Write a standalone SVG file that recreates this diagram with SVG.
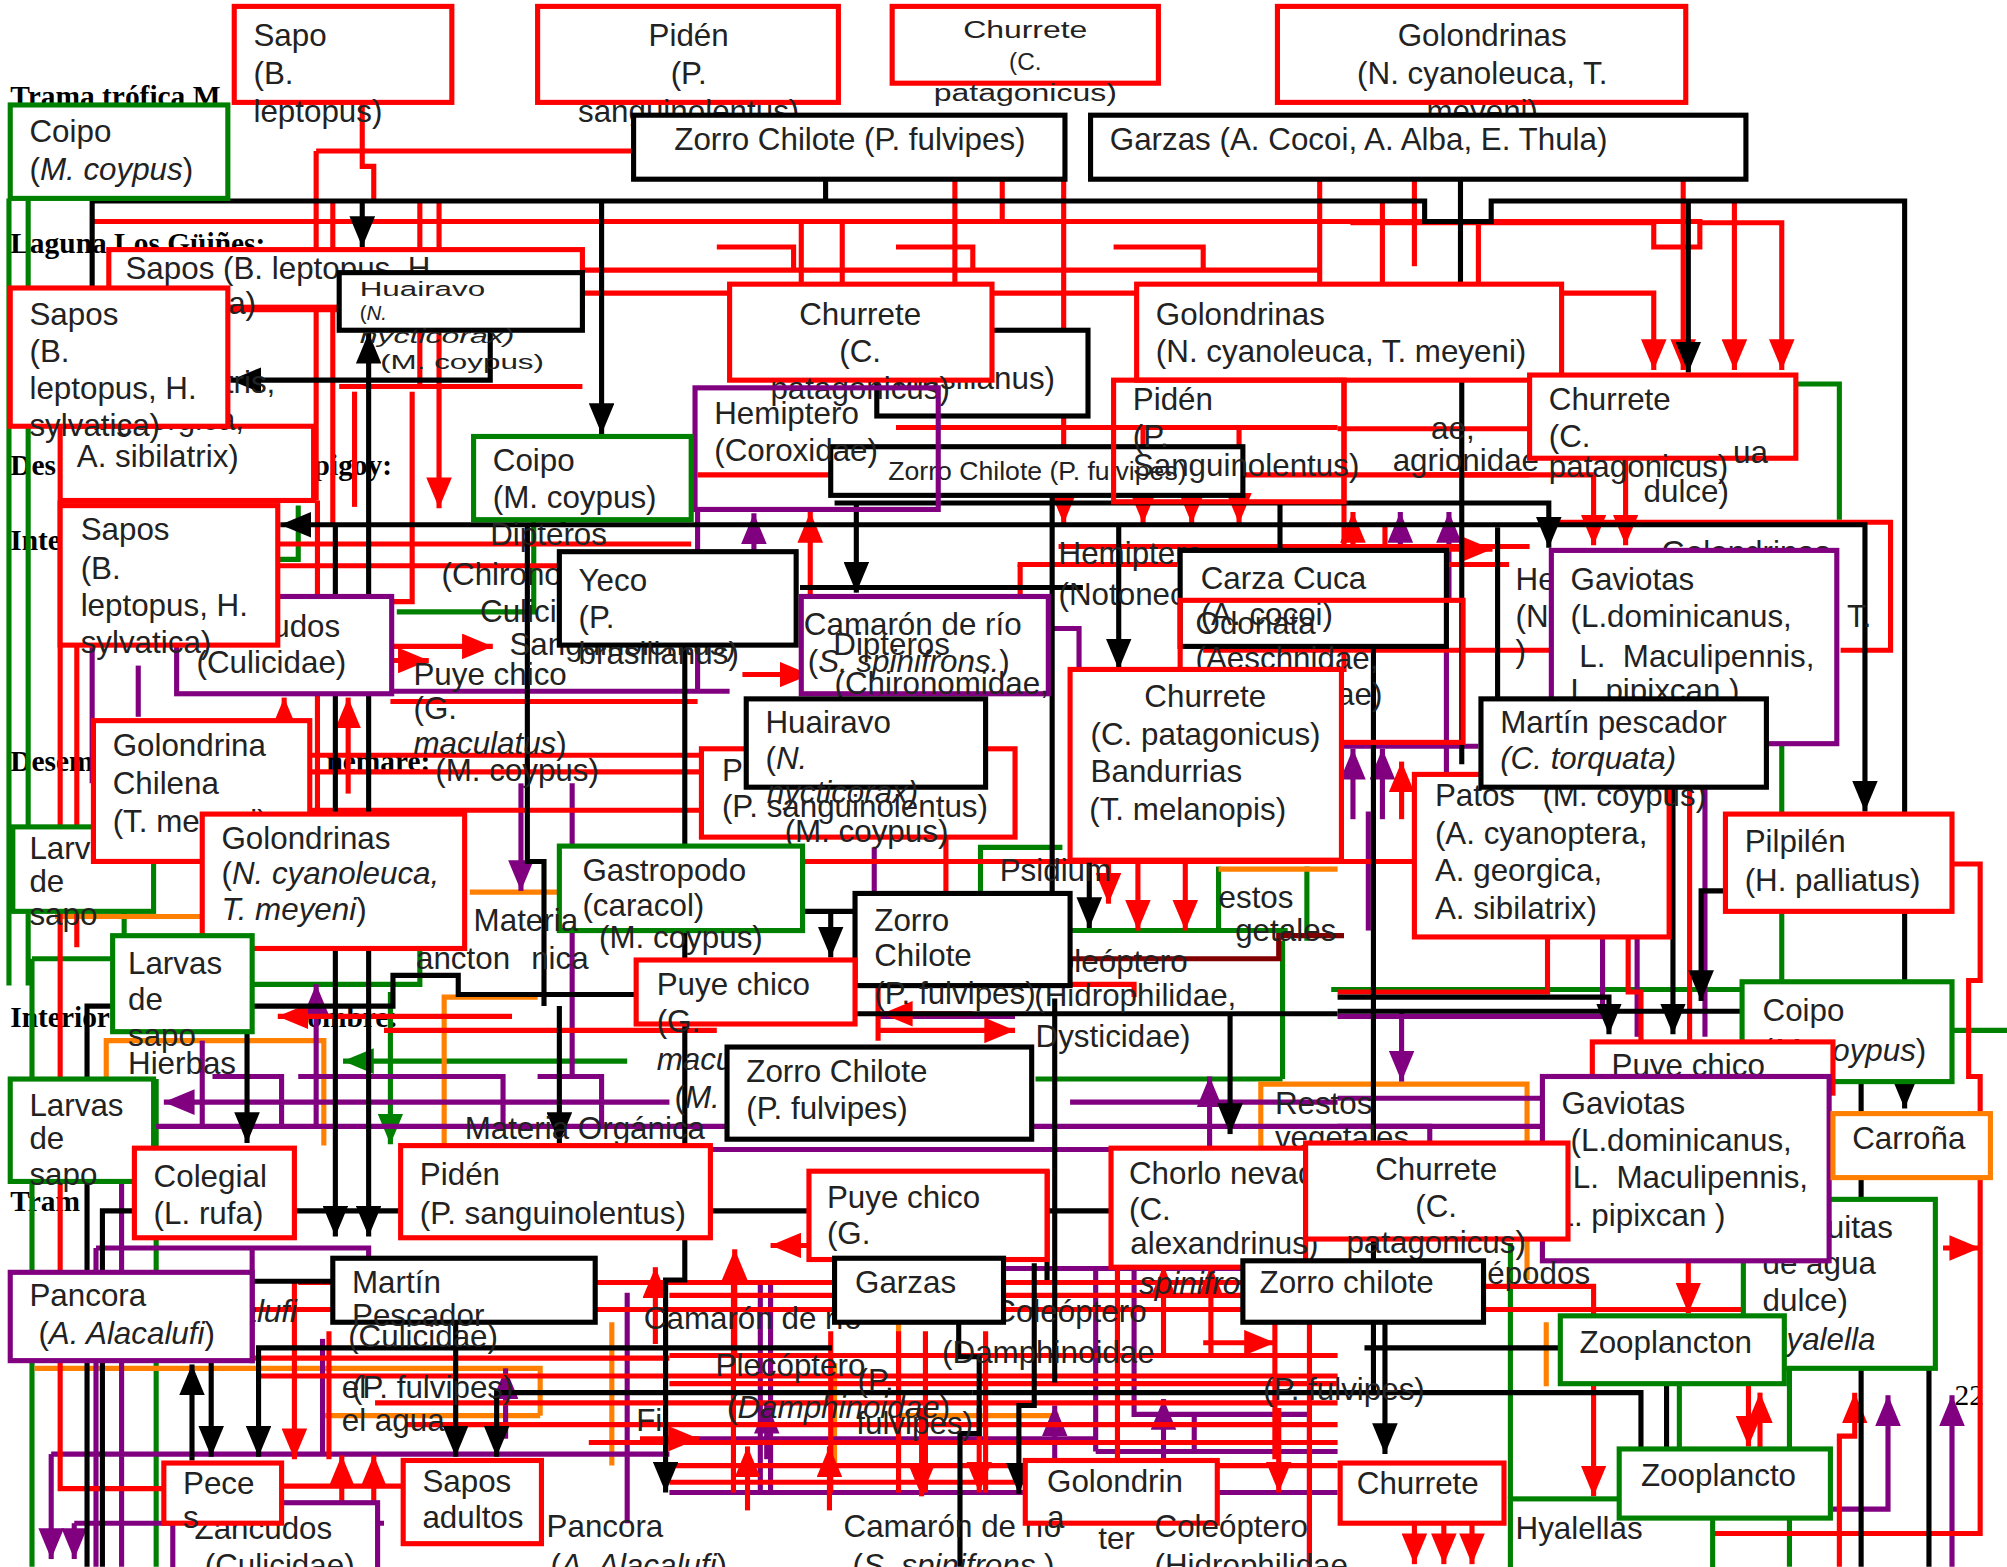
<svg xmlns="http://www.w3.org/2000/svg" width="2007" height="1567" viewBox="0 0 2007 1567">
<style>
.c path{fill:none;stroke-width:4}
.k{stroke:#000}.r{stroke:#ff0000}.p{stroke:#800080}.g{stroke:#008000}.o{stroke:#ff7f00}.dm{stroke:#800000}
.n rect{fill:#fff;stroke-width:4}
.n rect.nf{fill:none}
.R{stroke:#ff0000}.K{stroke:#000}.P{stroke:#800080}.G{stroke:#008000}.O{stroke:#ff7f00}
.t{font-family:"Liberation Sans",Arial,Helvetica,sans-serif;font-size:24.5px;fill:#222}
.mid{text-anchor:middle}
.sm{font-size:19px}
.xs{font-size:16px}
.it{font-style:italic}
.bg{font-family:"Liberation Serif","Times New Roman",serif;font-size:23px;font-weight:bold;fill:#000}
</style>
<defs>
<marker id="ak" viewBox="0 0 24 20" refX="24" refY="10" markerWidth="24" markerHeight="20" markerUnits="userSpaceOnUse" orient="auto"><path d="M0,0L24,10L0,20z" fill="#000"/></marker>
<marker id="ar" viewBox="0 0 24 20" refX="24" refY="10" markerWidth="24" markerHeight="20" markerUnits="userSpaceOnUse" orient="auto"><path d="M0,0L24,10L0,20z" fill="#ff0000"/></marker>
<marker id="ap" viewBox="0 0 24 20" refX="24" refY="10" markerWidth="24" markerHeight="20" markerUnits="userSpaceOnUse" orient="auto"><path d="M0,0L24,10L0,20z" fill="#800080"/></marker>
<marker id="ag" viewBox="0 0 24 20" refX="24" refY="10" markerWidth="24" markerHeight="20" markerUnits="userSpaceOnUse" orient="auto"><path d="M0,0L24,10L0,20z" fill="#008000"/></marker>
</defs>
<rect width="2007" height="1567" fill="#fff"/>
<g transform="scale(1.28)">
<g id="page-text">
<text class="bg" x="8" y="83">Trama trófica M</text>
<text class="bg" x="8" y="198">Laguna Los Güiñes:</text>
<text class="bg" x="8" y="371">Des</text>
<text class="bg" x="245" y="371">pigoy:</text>
<text class="bg" x="8" y="430">Inte</text>
<text class="bg" x="8" y="602">Desem</text>
<text class="bg" x="255" y="602">nemare:</text>
<text class="bg" x="8" y="802">Interior</text>
<text class="bg" x="240" y="802">ombre:</text>
<text class="bg" x="8" y="946">Tram</text>
<text class="bg" x="1527" y="1098" style="font-weight:normal">22</text>
</g>
<g id="connectors" class="c">
<path class="g" d="M7,155V770"/><path class="g" d="M22,155V770"/>
<path class="g" d="M1403,300H1437V406"/><path class="g" d="M1040,773H1362"/><path class="g" d="M1392,712V768"/>
<path class="g" d="M1525,805H1568"/><path class="g" d="M490,829H268" marker-end="url(#ag)"/>
<path class="g" d="M305,775V894" marker-end="url(#ag)"/><path class="g" d="M310,478H417V408"/>
<path class="g" d="M217,437H233V395"/><path class="g" d="M25,749H88"/><path class="g" d="M25,749V1224"/>
<path class="g" d="M198,769H328V724"/><path class="g" d="M97,712V731"/><path class="g" d="M122,843V1224"/>
<path class="g" d="M1180,971V1171"/><path class="g" d="M1312,1081V1133"/><path class="g" d="M1398,1069V1133"/>
<path class="g" d="M1398,1187V1224"/><path class="g" d="M766,727V662H830"/><path class="g" d="M837,727H1006"/>
<path class="g" d="M952,677V727"/><path class="g" d="M1002,735V843"/><path class="g" d="M809,843H1002"/>
<path class="g" d="M1021,677V735"/><path class="g" d="M1392,582V636"/>
<path class="o" d="M43,716H157"/><path class="o" d="M367,697H436"/><path class="o" d="M83,845V813H253V895"/>
<path class="o" d="M347,895V779H420"/><path class="o" d="M27,1069H422V1106"/><path class="o" d="M253,1106H422"/>
<path class="o" d="M478,1033V1145"/><path class="o" d="M985,1000V847H1193V1000"/><path class="o" d="M652,1065V1143"/>
<path class="o" d="M702,1030V1106H827"/><path class="o" d="M1208,1033V1083"/><path class="o" d="M952,679H1045"/>
<path class="dm" d="M836,749H999V731H1050"/>
<path class="p" d="M545,398V540"/><path class="p" d="M523,861H128" marker-end="url(#ap)"/><path class="p" d="M12,880H1210"/>
<path class="p" d="M407,612V696" marker-end="url(#ap)"/><path class="p" d="M1095,790V845" marker-end="url(#ap)"/>
<path class="p" d="M945,905V841" marker-end="url(#ap)"/><path class="p" d="M1432,1179H1475V1090" marker-end="url(#ap)"/>
<path class="p" d="M1525,1224V1090" marker-end="url(#ap)"/><path class="p" d="M40,1136H523"/>
<path class="p" d="M40,1136V1218" marker-end="url(#ap)"/><path class="p" d="M58,1190H300"/>
<path class="p" d="M58,1190V1218" marker-end="url(#ap)"/><path class="p" d="M1094,470V400" marker-end="url(#ap)"/>
<path class="p" d="M1132,470V400" marker-end="url(#ap)"/><path class="p" d="M589,460V401" marker-end="url(#ap)"/>
<path class="p" d="M680,491H843V620"/><path class="p" d="M305,540H570"/><path class="p" d="M95,860V1224"/>
<path class="p" d="M75,975V1224"/><path class="p" d="M75,975H288V1010"/><path class="p" d="M197,975V1065"/>
<path class="p" d="M252,1046V1136"/><path class="p" d="M490,1010V1190"/><path class="p" d="M523,1166H1045"/>
<path class="p" d="M523,1124H856"/><path class="p" d="M786,991H1045"/><path class="p" d="M856,1134H1045"/>
<path class="p" d="M594,1000V1166"/><path class="p" d="M602,1000V1166"/><path class="p" d="M856,991V1134"/>
<path class="p" d="M886,991V1105H1023V1224"/><path class="p" d="M933,1105V1134"/>
<path class="p" d="M395,1124V1069" marker-end="url(#ap)"/><path class="p" d="M599,1140V1096" marker-end="url(#ap)"/>
<path class="p" d="M824,1140V1098" marker-end="url(#ap)"/><path class="p" d="M909,1140V1093" marker-end="url(#ap)"/>
<path class="p" d="M166,841H220V880"/><path class="p" d="M233,841H393V880"/><path class="p" d="M420,841H470V880"/>
<path class="p" d="M158,813V880"/><path class="p" d="M247,880V769" marker-end="url(#ap)"/><path class="p" d="M447,612V841"/>
<path class="p" d="M1045,794H1252V732"/><path class="p" d="M1279,732V810"/><path class="p" d="M1332,612V810"/>
<path class="p" d="M1069,634V727"/><path class="p" d="M1045,858H1205"/><path class="p" d="M1045,880H1117V905"/>
<path class="p" d="M1130,505V612"/><path class="p" d="M1045,583H1155"/>
<path class="p" d="M1057,640V585" marker-end="url(#ap)"/><path class="p" d="M1080,640V585" marker-end="url(#ap)"/>
<path class="p" d="M72,505V612"/><path class="p" d="M108,520V560"/><path class="p" d="M683,662V698"/>
<path class="p" d="M836,861H1045"/><path class="p" d="M686,794H793"/><path class="p" d="M523,898H1045"/>
<path class="r" d="M283,80V130H292V157"/><path class="r" d="M247,118H497"/><path class="r" d="M247,118V391"/>
<path class="r" d="M72,173H1330"/><path class="r" d="M455,211H1030"/><path class="r" d="M178,229H570"/>
<path class="r" d="M560,193H620V211"/><path class="r" d="M700,193H760V211"/><path class="r" d="M870,193H940V211"/>
<path class="r" d="M746,140V222"/><path class="r" d="M626,173V222"/><path class="r" d="M658,173V222"/>
<path class="r" d="M783,140V173"/><path class="r" d="M831,140V409" marker-end="url(#ar)"/>
<path class="r" d="M1031,140V222"/><path class="r" d="M1080,157V222"/><path class="r" d="M1105,140V208"/>
<path class="r" d="M1155,173V222"/><path class="r" d="M1220,229H1292V289" marker-end="url(#ar)"/>
<path class="r" d="M1315,140V289" marker-end="url(#ar)"/><path class="r" d="M1355,157V289" marker-end="url(#ar)"/>
<path class="r" d="M1055,174H1292V193H1328V174H1392V289" marker-end="url(#ar)"/><path class="r" d="M775,229H888"/>
<path class="r" d="M260,157V410"/><path class="r" d="M328,157V300"/><path class="r" d="M343,157V397" marker-end="url(#ar)"/>
<path class="r" d="M178,242H265"/><path class="r" d="M265,302H455"/><path class="r" d="M100,393V337" marker-end="url(#ar)"/>
<path class="r" d="M248,391V640"/><path class="r" d="M277,306V396"/><path class="r" d="M322,306V470H305"/>
<path class="r" d="M217,425H540"/><path class="r" d="M217,442H437"/><path class="r" d="M305,548H545"/>
<path class="r" d="M306,516H335" marker-end="url(#ar)"/><path class="r" d="M306,505H385" marker-end="url(#ar)"/>
<path class="r" d="M222,620V545" marker-end="url(#ar)"/><path class="r" d="M272,620V545" marker-end="url(#ar)"/>
<path class="r" d="M700,334H1045"/><path class="r" d="M545,371H1195"/><path class="r" d="M827,427H1195"/>
<path class="r" d="M795,441H920"/><path class="r" d="M797,441V488" marker-end="url(#ar)"/><path class="r" d="M940,508H1230"/>
<path class="r" d="M893,334V409" marker-end="url(#ar)"/><path class="r" d="M931,371V409" marker-end="url(#ar)"/>
<path class="r" d="M968,334V409" marker-end="url(#ar)"/><path class="r" d="M1050,297V525"/>
<path class="r" d="M1057,470V400" marker-end="url(#ar)"/><path class="r" d="M633,470V400" marker-end="url(#ar)"/>
<path class="r" d="M1082,410V462" marker-end="url(#ar)"/><path class="r" d="M1120,429H1166" marker-end="url(#ar)"/>
<path class="r" d="M1045,335H1270V426" marker-end="url(#ar)"/><path class="r" d="M1109,371H1245V426" marker-end="url(#ar)"/>
<path class="r" d="M1045,441H1179"/><path class="r" d="M1438,508H1477V408H1212"/>
<path class="r" d="M580,527H633" marker-end="url(#ar)"/><path class="r" d="M47,391V1163H128"/><path class="r" d="M60,505V740"/>
<path class="r" d="M400,794H217" marker-end="url(#ar)"/><path class="r" d="M240,633H560"/><path class="r" d="M242,590H560"/>
<path class="r" d="M242,603H550"/><path class="r" d="M300,805H560"/><path class="r" d="M523,673H1105"/>
<path class="r" d="M889,673V727" marker-end="url(#ar)"/><path class="r" d="M926,673V727" marker-end="url(#ar)"/>
<path class="r" d="M866,673V706" marker-end="url(#ar)"/><path class="r" d="M739,654V698"/>
<path class="r" d="M686,813V769H886V779"/><path class="r" d="M686,805H793" marker-end="url(#ar)"/>
<path class="r" d="M760,792H689" marker-end="url(#ar)"/>
<path class="r" d="M1525,675H1547V766H1538V841H1547V1198H1338"/><path class="r" d="M1518,975H1547" marker-end="url(#ar)"/>
<path class="r" d="M1209,732V775H1045"/><path class="r" d="M1272,732V775H1282V814"/><path class="r" d="M1320,615V814"/>
<path class="r" d="M1095,640V595" marker-end="url(#ar)"/>
<path class="r" d="M233,1002H1045"/><path class="r" d="M177,1023H1045"/><path class="r" d="M177,1061H523"/>
<path class="r" d="M200,1075H1045"/><path class="r" d="M293,1096H1045"/><path class="r" d="M318,1113H1045"/>
<path class="r" d="M460,1127H1045"/><path class="r" d="M220,1161H315"/><path class="r" d="M523,1012H1045"/>
<path class="r" d="M523,1059H1045"/><path class="r" d="M523,1081H1045"/><path class="r" d="M523,1145H1045"/>
<path class="r" d="M523,1158H800"/>
<path class="r" d="M230,1002V1140" marker-end="url(#ar)"/><path class="r" d="M257,1040V1140"/>
<path class="r" d="M573,1000V1166"/><path class="r" d="M649,1040V1166"/><path class="r" d="M702,1040V1166"/>
<path class="r" d="M723,1040V1166"/><path class="r" d="M770,1040V1166"/><path class="r" d="M873,990V1140"/>
<path class="r" d="M996,1033V1140"/><path class="r" d="M1023,1033V1224"/>
<path class="r" d="M574,1060V976" marker-end="url(#ar)"/><path class="r" d="M512,1050V990" marker-end="url(#ar)"/>
<path class="r" d="M909,1060V989" marker-end="url(#ar)"/><path class="r" d="M946,1060V989" marker-end="url(#ar)"/>
<path class="r" d="M720,1100V1169" marker-end="url(#ar)"/><path class="r" d="M765,1100V1166" marker-end="url(#ar)"/>
<path class="r" d="M999,1100V1166" marker-end="url(#ar)"/><path class="r" d="M660,973H602" marker-end="url(#ar)"/>
<path class="r" d="M940,1049H996" marker-end="url(#ar)"/><path class="r" d="M584,1180V1130" marker-end="url(#ar)"/>
<path class="r" d="M648,1180V1130" marker-end="url(#ar)"/><path class="r" d="M500,1124H546" marker-end="url(#ar)"/>
<path class="r" d="M1156,1005H1245V1169" marker-end="url(#ar)"/><path class="r" d="M1156,1023H1366V1130" marker-end="url(#ar)"/>
<path class="r" d="M1319,985V1026" marker-end="url(#ar)"/><path class="r" d="M1375,1150V1088" marker-end="url(#ar)"/>
<path class="r" d="M1437,1224V1122H1449V1088" marker-end="url(#ar)"/>
<path class="r" d="M1105,1190V1222" marker-end="url(#ar)"/><path class="r" d="M1128,1190V1222" marker-end="url(#ar)"/>
<path class="r" d="M1150,1190V1222" marker-end="url(#ar)"/>
<path class="r" d="M267,1180V1137" marker-end="url(#ar)"/><path class="r" d="M292,1180V1137" marker-end="url(#ar)"/>
<path class="k" d="M72,225V157H1113V173H1165V157H1488V766"/><path class="k" d="M645,140V157"/>
<path class="k" d="M283,157V193" marker-end="url(#ak)"/><path class="k" d="M1319,157V291" marker-end="url(#ak)"/>
<path class="k" d="M1141,140V222"/><path class="k" d="M470,157V339" marker-end="url(#ak)"/>
<path class="k" d="M383,258V297H180" marker-end="url(#ak)"/><path class="k" d="M288,410V260" marker-end="url(#ak)"/>
<path class="k" d="M262,410V966" marker-end="url(#ak)"/><path class="k" d="M288,410V966" marker-end="url(#ak)"/>
<path class="k" d="M700,410H219" marker-end="url(#ak)"/><path class="k" d="M700,410H1457V634" marker-end="url(#ak)"/>
<path class="k" d="M652,393H1210V428" marker-end="url(#ak)"/><path class="k" d="M669,393V463" marker-end="url(#ak)"/>
<path class="k" d="M874,410V523" marker-end="url(#ak)"/><path class="k" d="M1000,393V472" marker-end="url(#ak)"/>
<path class="k" d="M1142,297V597"/><path class="k" d="M1073,505V1090"/><path class="k" d="M1488,845V866" marker-end="url(#ak)"/>
<path class="k" d="M535,504V1000H520V1166" marker-end="url(#ak)"/><path class="k" d="M822,388V696"/>
<path class="k" d="M824,780V1080"/><path class="k" d="M808,987V1098H796V1167" marker-end="url(#ak)"/>
<path class="k" d="M851,672V725" marker-end="url(#ak)"/><path class="k" d="M523,792H1045"/>
<path class="k" d="M961,792V886" marker-end="url(#ak)"/><path class="k" d="M1082,1033V1136" marker-end="url(#ak)"/>
<path class="k" d="M760,1088H388V1138" marker-end="url(#ak)"/><path class="k" d="M760,1088H1282V1222" marker-end="url(#ak)"/>
<path class="k" d="M1066,1053H1507V1224"/><path class="k" d="M1302,1053V1222" marker-end="url(#ak)"/>
<path class="k" d="M1045,790H1454V1224"/><path class="k" d="M1307,615V808" marker-end="url(#ak)"/>
<path class="k" d="M1045,779H1257V808" marker-end="url(#ak)"/><path class="k" d="M1348,696H1329V782" marker-end="url(#ak)"/>
<path class="k" d="M260,1001H165V1138" marker-end="url(#ak)"/><path class="k" d="M650,1053H202V1138" marker-end="url(#ak)"/>
<path class="k" d="M150,1141V1066" marker-end="url(#ak)"/><path class="k" d="M356,1033V1138" marker-end="url(#ak)"/>
<path class="k" d="M80,1224V946H1016" marker-end="url(#ak)"/><path class="k" d="M68,1224V786H307V762H358V777H667"/>
<path class="k" d="M440,712H668"/><path class="k" d="M649,712V748" marker-end="url(#ak)"/>
<path class="k" d="M193,786V893" marker-end="url(#ak)"/><path class="k" d="M437,786V893" marker-end="url(#ak)"/>
<path class="k" d="M412,410V673H425V786"/><path class="k" d="M440,406V410"/><path class="k" d="M625,459H846"/>
<path class="k" d="M632,916H818V1000"/><path class="k" d="M749,1033V1060H765V1120H750V1224"/><path class="k" d="M1170,412V546"/>
</g>
<g id="nodes" class="n">
<g id="n-coipo-1"><rect class="G" x="8" y="82" width="170" height="73"/><text class="t" x="23" y="111">Coipo</text><text class="t" x="23" y="141">(<tspan class="it">M. coypus</tspan>)</text></g>
<g id="n-sapo-1"><rect class="R" x="183" y="5" width="170" height="75"/><text class="t" x="198" y="36">Sapo</text><text class="t" x="198" y="66">(B.</text><text class="t" x="198" y="95">leptopus)</text></g>
<g id="n-piden-1"><rect class="R" x="420" y="5" width="235" height="75"/><text class="t mid" x="538" y="36">Pidén</text><text class="t mid" x="538" y="66">(P.</text><text class="t mid" x="538" y="95">sanguinolentus)</text></g>
<g id="n-churrete-1"><rect class="R" x="697" y="5" width="208" height="60"/><text class="t sm mid" x="801" y="30" textLength="97" lengthAdjust="spacingAndGlyphs">Churrete</text><text class="t sm mid" x="801" y="55">(C.</text><text class="t sm mid" x="801" y="79" textLength="143" lengthAdjust="spacingAndGlyphs">patagonicus)</text></g>
<g id="n-golondrinas-1"><rect class="R" x="998" y="5" width="319" height="75"/><text class="t mid" x="1158" y="36">Golondrinas</text><text class="t mid" x="1158" y="66">(N. cyanoleuca, T.</text><text class="t mid" x="1158" y="95">meyeni)</text></g>
<g id="n-zorro-1"><rect class="K" x="495" y="90" width="337" height="50"/><text class="t mid" x="664" y="117">Zorro Chilote (P. fulvipes)</text></g>
<g id="n-garzas-1"><rect class="K" x="852" y="90" width="512" height="50"/><text class="t" x="867" y="117">Garzas (A. Cocoi, A. Alba, E. Thula)</text></g>
<g id="n-sapos-2"><rect class="R" x="85" y="195" width="370" height="45"/><text class="t" x="98" y="218">Sapos (B. leptopus, H.</text><text class="t" x="98" y="245">sylvatica)</text></g>
<g id="n-patos-1"><rect class="R" x="47" y="333" width="198" height="58"/><text class="t" x="60" y="278">Patos</text><text class="t" x="60" y="307">(A. flavirostris,</text><text class="t" x="60" y="336">A. georgica,</text><text class="t" x="60" y="365">A. sibilatrix)</text></g>
<g id="n-sapos-3"><rect class="R" x="8" y="225" width="170" height="108"/><text class="t" x="23" y="254">Sapos</text><text class="t" x="23" y="283">(B.</text><text class="t" x="23" y="312">leptopus, H.</text><text class="t" x="23" y="341">sylvatica)</text></g>
<g id="n-huairavo-1"><rect class="K" x="265" y="213" width="190" height="45"/><text class="t xs" x="281" y="231" textLength="98" lengthAdjust="spacingAndGlyphs">Huairavo</text><text class="t xs" x="281" y="250">(<tspan class="it">N.</tspan></text><text class="t xs it" x="281" y="268" textLength="121" lengthAdjust="spacingAndGlyphs">nycticorax)</text><text class="t xs" x="297" y="288" textLength="128" lengthAdjust="spacingAndGlyphs">(M. coypus)</text></g>
<g id="n-yeco-1"><rect class="K" x="685" y="258" width="165" height="67"/><text class="t" x="699" y="246">Yeco</text><text class="t" x="699" y="275">(P.</text><text class="t" x="699" y="304">brasilianus)</text></g>
<g id="n-churrete-2"><rect class="R" x="570" y="222" width="205" height="75"/><text class="t mid" x="672" y="254">Churrete</text><text class="t mid" x="672" y="283">(C.</text><text class="t mid" x="672" y="312">patagonicus)</text></g>
<g id="n-golondrinas-2"><rect class="R" x="888" y="222" width="332" height="75"/><text class="t" x="903" y="254">Golondrinas</text><text class="t" x="903" y="283">(N. cyanoleuca, T. meyeni)</text></g>
<g id="n-odonata-1"><text class="t" x="1118" y="343">ae,</text><text class="t" x="1088" y="368">agrionidae</text></g>
<g id="n-churrete-3"><rect class="R" x="1195" y="293" width="208" height="65"/><text class="t" x="1210" y="320">Churrete</text><text class="t" x="1210" y="349">(C.</text><text class="t" x="1210" y="373">patagonicus)</text></g>
<g id="n-pulguitas-1"><text class="t" x="1354" y="362">ua</text><text class="t" x="1284" y="392">dulce)</text></g>
<g id="n-zorro-2"><rect class="K" x="649" y="349" width="322" height="38"/><text class="t" x="694" y="375" style="font-size:20px" textLength="233" lengthAdjust="spacingAndGlyphs">Zorro Chilote (P. fulvipes)</text></g>
<g id="n-piden-2"><rect class="R nf" x="870" y="297" width="180" height="95"/><text class="t" x="885" y="320">Pidén</text><text class="t" x="885" y="349">(P.</text><text class="t" x="885" y="372">Sanguinolentus)</text></g>
<g id="n-hemiptero-1"><rect class="P nf" x="543" y="303" width="190" height="95"/><text class="t" x="558" y="331">Hemiptero</text><text class="t" x="558" y="360">(Coroxidae)</text></g>
<g id="n-coipo-2"><rect class="G" x="370" y="341" width="170" height="65"/><text class="t" x="385" y="368">Coipo</text><text class="t" x="385" y="397">(M. coypus)</text></g>
<g id="n-dipteros-1"><text class="t" x="383" y="426">Dipteros</text><text class="t" x="345" y="457">(Chironomidae,</text><text class="t" x="375" y="486">Culicidae)</text></g>
<g id="n-puye-1"><text class="t" x="323" y="535">Puye chico</text><text class="t" x="323" y="562">(G.</text><text class="t" x="323" y="589"><tspan class="it">maculatus</tspan>)</text><text class="t" x="340" y="610">(M. coypus)</text></g>
<g id="n-piden-x"><text class="t" x="398" y="512">Sanguinolentus)</text></g>
<g id="n-zancudos-1"><rect class="P" x="138" y="466" width="168" height="76"/><text class="t mid" x="212" y="498">Zancudos</text><text class="t mid" x="212" y="526">(Culicidae)</text></g>
<g id="n-sapos-4"><rect class="R" x="47" y="395" width="170" height="109"/><text class="t" x="63" y="422">Sapos</text><text class="t" x="63" y="452">(B.</text><text class="t" x="63" y="481">leptopus, H.</text><text class="t" x="63" y="510">sylvatica)</text></g>
<g id="n-yeco-2"><rect class="K" x="437" y="431" width="185" height="73"/><text class="t" x="452" y="462">Yeco</text><text class="t" x="452" y="491">(P.</text><text class="t" x="452" y="519">brasilianus)</text></g>
<g id="n-camaron-1"><rect class="P" x="626" y="466" width="193" height="76"/><text class="t" x="628" y="496">Camarón de río</text><text class="t" x="631" y="525">(<tspan class="it">S. spinifrons.</tspan>)</text><text class="t" x="651" y="512">Dipteros</text><text class="t" x="652" y="542">(Chironomidae,</text></g>
<g id="n-hemiptero-2"><text class="t" x="827" y="441">Hemiptero</text><text class="t" x="827" y="473">(Notonectidae)</text></g>
<g id="n-carza"><rect class="K" x="922" y="430" width="208" height="75"/><text class="t" x="938" y="460">Carza Cuca</text><text class="t" x="938" y="488">(A. cocoi)</text></g>
<g id="n-odonata-2"><rect class="R nf" x="922" y="469" width="221" height="111"/><text class="t" x="934" y="495">Odonata</text><text class="t" x="934" y="523">(Aeschnidae,</text><text class="t" x="1080" y="551" style="text-anchor:end">Coenagrionidae)</text></g>
<g id="n-hemiptero-3"><text class="t" x="1184" y="461">Hemiptero</text><text class="t" x="1184" y="490">(Notonectidae</text><text class="t" x="1184" y="517">)</text><text class="t" x="1298" y="440">Golondrinas</text><text class="t" x="1462" y="490" style="text-anchor:end">(N. cyanoleuca, T.</text></g>
<g id="n-gaviotas-1"><rect class="P" x="1212" y="430" width="223" height="151"/><text class="t" x="1227" y="461">Gaviotas</text><text class="t" x="1227" y="490">(L.dominicanus,</text><text class="t" x="1227" y="521" xml:space="preserve"> L.  Maculipennis,</text><text class="t" x="1227" y="548">L. pipixcan )</text></g>
<g id="n-patos-2"><rect class="R" x="1105" y="605" width="199" height="127"/><text class="t" x="1121" y="630">Patos</text><text class="t" x="1205" y="630">(M. coypus)</text><text class="t" x="1121" y="659">(A. cyanoptera,</text><text class="t" x="1121" y="688">A. georgica,</text><text class="t" x="1121" y="718">A. sibilatrix)</text></g>
<g id="n-martin-1"><rect class="K" x="1157" y="546" width="223" height="69"/><text class="t" x="1172" y="573">Martín pescador</text><text class="t" x="1172" y="601"><tspan class="it">(C. torquata)</tspan></text></g>
<g id="n-churrete-4"><rect class="R" x="836" y="523" width="212" height="149"/><text class="t" x="894" y="552">Churrete</text><text class="t" x="852" y="582">(C. patagonicus)</text><text class="t" x="852" y="611">Bandurrias</text><text class="t" x="851" y="641">(T. melanopis)</text></g>
<g id="n-piden-3"><rect class="R" x="548" y="585" width="245" height="69"/><text class="t" x="564" y="610">Pidén</text><text class="t" x="564" y="638">(P. sanguinolentus)</text><text class="t" x="613" y="658">(M. coypus)</text></g>
<g id="n-huairavo-2"><rect class="K" x="583" y="546" width="187" height="69"/><text class="t" x="598" y="573">Huairavo</text><text class="t" x="598" y="601">(<tspan class="it">N.</tspan></text><text class="t it" x="599" y="627">nycticorax)</text></g>
<g id="n-pilpilen"><rect class="R" x="1348" y="636" width="177" height="76"/><text class="t" x="1363" y="666">Pilpilén</text><text class="t" x="1363" y="696">(H. palliatus)</text></g>
<g id="n-larvas-1"><rect class="G" x="10" y="646" width="110" height="66"/><text class="t" x="23" y="671">Larvas</text><text class="t" x="23" y="697">de</text><text class="t" x="23" y="723">sapo</text></g>
<g id="n-golondrina-chilena"><rect class="R" x="73" y="563" width="169" height="110"/><text class="t" x="88" y="591">Golondrina</text><text class="t" x="88" y="620">Chilena</text><text class="t" x="88" y="650">(T. meyeni)</text></g>
<g id="n-golondrinas-3"><rect class="R" x="158" y="636" width="205" height="105"/><text class="t" x="173" y="663">Golondrinas</text><text class="t" x="173" y="691">(<tspan class="it">N. cyanoleuca,</tspan></text><text class="t it" x="173" y="719">T. meyeni<tspan style="font-style:normal">)</tspan></text></g>
<g id="n-gastropodo"><rect class="G" x="437" y="661" width="190" height="66"/><text class="t" x="455" y="688">Gastropodo</text><text class="t" x="455" y="716">(caracol)</text><text class="t" x="468" y="741">(M. coypus)</text></g>
<g id="n-materia-1"><text class="t" x="370" y="727">Materia</text><text class="t" x="325" y="757">ancton</text><text class="t" x="415" y="757">nica</text></g>
<g id="n-psidium"><text class="t" x="781" y="688">Psidium</text></g>
<g id="n-restos-1"><text class="t" x="952" y="709">estos</text><text class="t" x="965" y="735">getales</text></g>
<g id="n-coleoptero-1"><text class="t" x="808" y="759">Coleóptero</text><text class="t" x="808" y="786">(Hidrophilidae,</text><text class="t" x="809" y="818">Dysticidae)</text></g>
<g id="n-zorro-3"><rect class="K" x="668" y="698" width="168" height="72"/><text class="t" x="683" y="727">Zorro</text><text class="t" x="683" y="755">Chilote</text><text class="t" x="683" y="784">(P. fulvipes)</text></g>
<g id="n-larvas-2"><rect class="G" x="88" y="731" width="109" height="75"/><text class="t" x="100" y="761">Larvas</text><text class="t" x="100" y="789">de</text><text class="t" x="100" y="817">sapo</text></g>
<g id="n-hierbas"><text class="t" x="100" y="839">Hierbas</text></g>
<g id="n-larvas-3"><rect class="G" x="8" y="843" width="112" height="80"/><text class="t" x="23" y="872">Larvas</text><text class="t" x="23" y="898">de</text><text class="t" x="23" y="926">sapo</text></g>
<g id="n-puye-2"><rect class="R" x="497" y="750" width="171" height="50"/><text class="t" x="513" y="777">Puye chico</text><text class="t" x="513" y="806">(G.</text><text class="t" x="513" y="836"><tspan class="it">maculatus</tspan>)</text><text class="t" x="527" y="866">(<tspan class="it">M. coypus</tspan>)</text></g>
<g id="n-zorro-4"><rect class="K" x="568" y="818" width="238" height="72"/><text class="t" x="583" y="845">Zorro Chilote</text><text class="t" x="583" y="874">(P. fulvipes)</text></g>
<g id="n-materia-2"><text class="t" x="363" y="890">Materia Orgánica</text></g>
<g id="n-restos-2"><text class="t" x="996" y="870">Restos</text><text class="t" x="996" y="897">vegetales</text></g>
<g id="n-colegial"><rect class="R" x="105" y="897" width="125" height="70"/><text class="t" x="120" y="927">Colegial</text><text class="t" x="120" y="956">(L. rufa)</text></g>
<g id="n-piden-4"><rect class="R" x="313" y="895" width="242" height="72"/><text class="t" x="328" y="926">Pidén</text><text class="t" x="328" y="956">(P. sanguinolentus)</text></g>
<g id="n-puye-3"><rect class="R" x="632" y="915" width="186" height="69"/><text class="t" x="646" y="944">Puye chico</text><text class="t" x="646" y="972">(G.</text></g>
<g id="n-chorlo"><rect class="R" x="868" y="897" width="152" height="93"/><text class="t" x="882" y="925">Chorlo nevado</text><text class="t" x="882" y="953">(C.</text><text class="t" x="883" y="980">alexandrinus)</text></g>
<g id="n-coipo-3"><rect class="G" x="1361" y="767" width="164" height="78"/><text class="t" x="1377" y="798">Coipo</text><text class="t" x="1377" y="829">(<tspan class="it">M. coypus</tspan>)</text></g>
<g id="n-puye-4"><rect class="R" x="1244" y="814" width="188" height="40"/><text class="t" x="1259" y="841">Puye chico</text></g>
<g id="n-pulguitas-2"><rect class="G" x="1362" y="937" width="150" height="132"/><text class="t" x="1370" y="967">(Pulguitas</text><text class="t" x="1377" y="995">de agua</text><text class="t" x="1377" y="1024">dulce)</text><text class="t it" x="1378" y="1055">Hyalella</text></g>
<g id="n-gaviotas-2"><rect class="P" x="1205" y="841" width="224" height="144"/><text class="t" x="1220" y="870">Gaviotas</text><text class="t" x="1227" y="899">(L.dominicanus,</text><text class="t" x="1222" y="928" xml:space="preserve"> L.  Maculipennis,</text><text class="t" x="1216" y="958">L. pipixcan )</text></g>
<g id="n-churrete-5"><rect class="R" x="1020" y="893" width="205" height="75"/><text class="t mid" x="1122" y="922">Churrete</text><text class="t mid" x="1122" y="951">(C.</text><text class="t mid" x="1122" y="979">patagonicus)</text></g>
<g id="n-carrona"><rect class="O" x="1432" y="870" width="123" height="50"/><text class="t" x="1447" y="898">Carroña</text></g>
<g id="n-copepodos"><text class="t" x="1117" y="1003">Copépodos</text></g>
<g id="n-pancora-1"><text class="t it" x="232" y="1033" style="text-anchor:end">(A. Alacalufi</text><rect class="P" x="8" y="994" width="189" height="69"/><text class="t" x="23" y="1020">Pancora</text><text class="t" x="30" y="1050">(<tspan class="it">A. Alacalufi</tspan>)</text></g>
<g id="n-martin-2"><rect class="K" x="260" y="983" width="205" height="50"/><text class="t" x="275" y="1010">Martín</text><text class="t" x="275" y="1036">Pescador</text></g>
<g id="n-misc-bottom"><text class="t" x="272" y="1052">(Culicidae)</text><text class="t" x="267" y="1092">el</text><text class="t" x="275" y="1092">(P. fulvipes)</text><text class="t" x="267" y="1118">el agua</text><text class="t" x="503" y="1038">Camarón de río</text><text class="t" x="559" y="1075">Plecóptero</text><text class="t" x="670" y="1087">(P.</text><text class="t" x="669" y="1120">fulvipes)</text><text class="t" x="568" y="1108">(<tspan class="it">Damphinoidae</tspan>)</text><text class="t" x="736" y="1065">(Damphinoidae</text><text class="t" x="497" y="1118">Fi</text><text class="t" x="776" y="1033">Coleóptero</text><text class="t it" x="890" y="1011">spinifrons</text><text class="t" x="987" y="1094">(P. fulvipes)</text><text class="t" x="858" y="1210">ter</text></g>
<g id="n-garzas-2"><rect class="K" x="652" y="983" width="132" height="50"/><text class="t" x="668" y="1010">Garzas</text></g>
<g id="n-zorro-5"><rect class="K" x="971" y="985" width="188" height="48"/><text class="t" x="984" y="1010">Zorro chilote</text></g>
<g id="n-zooplancton-1"><rect class="G" x="1219" y="1028" width="175" height="53"/><text class="t" x="1234" y="1057">Zooplancton</text></g>
<g id="n-zancudos-2"><rect class="P" x="135" y="1174" width="160" height="70"/><text class="t" x="152" y="1202">Zancudos</text><text class="t" x="160" y="1231">(Culicidae)</text></g>
<g id="n-peces"><rect class="R" x="128" y="1143" width="92" height="47"/><text class="t" x="143" y="1167">Pece</text><text class="t" x="143" y="1194">s</text></g>
<g id="n-sapos-adultos"><rect class="R" x="315" y="1141" width="108" height="65"/><text class="t" x="330" y="1166">Sapos</text><text class="t" x="330" y="1194">adultos</text></g>
<g id="n-pancora-2"><text class="t" x="427" y="1201">Pancora</text><text class="t" x="430" y="1231">(<tspan class="it">A. Alacalufi</tspan>)</text></g>
<g id="n-camaron-2"><text class="t" x="659" y="1201">Camarón de río</text><text class="t" x="666" y="1231">(<tspan class="it">S. spinifrons</tspan> )</text></g>
<g id="n-golondrina-4"><rect class="R" x="801" y="1141" width="150" height="49"/><text class="t" x="818" y="1166">Golondrin</text><text class="t" x="818" y="1194">a</text></g>
<g id="n-coleoptero-2"><text class="t" x="902" y="1201">Coleóptero</text><text class="t" x="902" y="1231">(Hidrophilidae</text></g>
<g id="n-churrete-6"><rect class="R" x="1047" y="1143" width="128" height="47"/><text class="t" x="1060" y="1167">Churrete</text></g>
<g id="n-hyalellas"><rect class="G" x="1180" y="1171" width="158" height="70"/><text class="t" x="1184" y="1202">Hyalellas</text></g>
<g id="n-zooplancton-2"><rect class="G" x="1265" y="1132" width="165" height="54"/><text class="t" x="1282" y="1161">Zooplancto</text></g>
</g>
</g>
</svg>
